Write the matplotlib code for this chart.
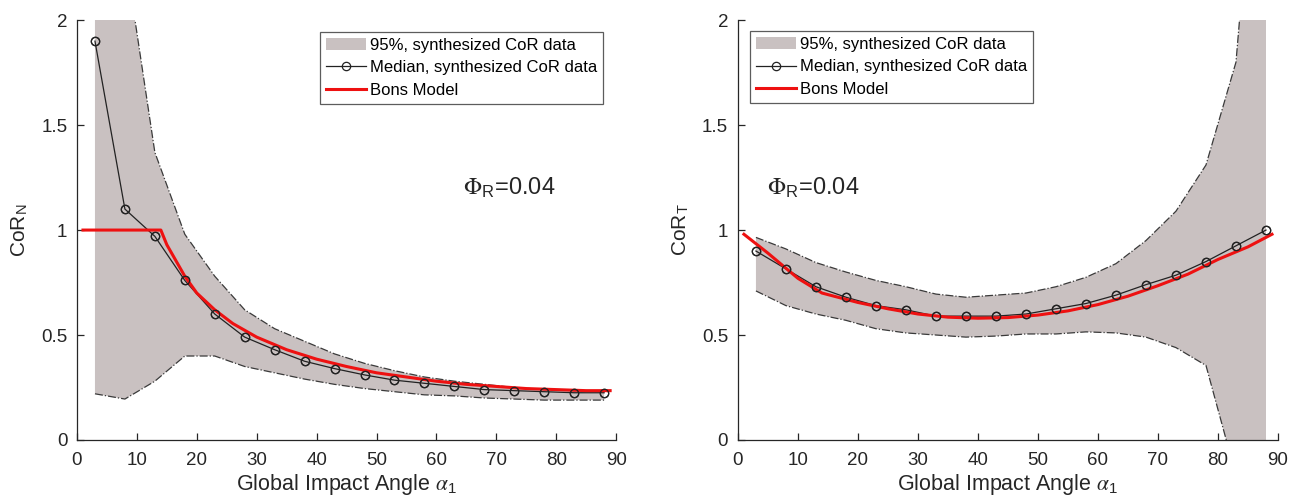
import matplotlib
matplotlib.use("Agg")
import matplotlib.pyplot as plt
from matplotlib.ticker import FuncFormatter

plt.rcParams['font.family'] = ['Liberation Sans', 'DejaVu Sans']
plt.rcParams['mathtext.fontset'] = 'stix'

# ---- data ----
angles = [3, 8, 13, 18, 23, 28, 33, 38, 43, 48, 53, 58, 63, 68, 73, 78, 83, 88]

# Left: normal CoR
n_median = [1.90, 1.10, 0.97, 0.76, 0.60, 0.49, 0.43, 0.375, 0.34, 0.31, 0.285, 0.27,
            0.255, 0.24, 0.235, 0.23, 0.225, 0.225]
n_upper = [4.0, 2.32, 1.37, 0.98, 0.78, 0.62, 0.53, 0.47, 0.41, 0.365, 0.33, 0.30,
           0.28, 0.265, 0.25, 0.24, 0.235, 0.23]
n_lower = [0.22, 0.195, 0.28, 0.40, 0.40, 0.35, 0.32, 0.29, 0.265, 0.245, 0.23, 0.215,
           0.21, 0.20, 0.195, 0.19, 0.19, 0.19]
n_bons_x = [1, 14, 15, 16, 18, 20, 23, 26, 30, 35, 40, 45, 50, 55, 60, 65, 70, 75, 80, 85, 89]
n_bons_y = [1.0, 1.0, 0.93, 0.88, 0.78, 0.70, 0.62, 0.555, 0.49, 0.43, 0.385, 0.35, 0.32,
            0.30, 0.28, 0.265, 0.255, 0.245, 0.24, 0.235, 0.235]

# Right: tangential CoR
t_median = [0.90, 0.815, 0.73, 0.68, 0.64, 0.62, 0.59, 0.59, 0.59, 0.60, 0.625, 0.65,
            0.69, 0.74, 0.785, 0.85, 0.925, 1.0]
t_upper = [0.965, 0.91, 0.845, 0.80, 0.76, 0.73, 0.695, 0.68, 0.69, 0.70, 0.73, 0.775,
           0.84, 0.95, 1.09, 1.31, 1.80, 3.5]
t_lower = [0.71, 0.64, 0.60, 0.57, 0.53, 0.51, 0.50, 0.49, 0.495, 0.505, 0.505, 0.515,
           0.51, 0.49, 0.44, 0.355, -0.17, -0.6]
t_bons_x = [1, 5, 10, 14, 20, 25, 30, 35, 40, 45, 50, 55, 60, 65, 70, 75, 80, 85, 89]
t_bons_y = [0.98, 0.89, 0.77, 0.70, 0.655, 0.625, 0.60, 0.585, 0.58, 0.583, 0.595, 0.615,
            0.645, 0.685, 0.735, 0.79, 0.86, 0.92, 0.98]

x_ticks = [0, 10, 20, 30, 40, 50, 60, 70, 80, 90]
y_ticks = [0, 0.5, 1, 1.5, 2]
band_label = '95%, synthesized CoR data'
median_label = 'Median, synthesized CoR data'
bons_label = 'Bons Model'
x_label = r'Global Impact Angle $\alpha_\mathregular{1}$'
phi_text = r'$\Phi_\mathregular{R}$=0.04'

FILL = '#c9c1c1'
EDGE = '#3a3a3a'
AX = '#262626'

fig = plt.figure(figsize=(12.96, 5.01), dpi=100)
ax1 = fig.add_axes([0.0594, 0.1218, 0.416, 0.838])
ax2 = fig.add_axes([0.5694, 0.1218, 0.4167, 0.838])


def draw(ax, med, up, lo, bx, by, ylab, legend_anchor, legend_loc, phi_xy):
    band = ax.fill_between(angles, lo, up, color=FILL, linewidth=0, label=band_label)
    ax.plot(angles, up, linestyle='-.', color=EDGE, linewidth=0.9)
    ax.plot(angles, lo, linestyle='-.', color=EDGE, linewidth=0.9)
    ml, = ax.plot(angles, med, '-', color='#222222', linewidth=0.9, marker='o',
                  markersize=6, markerfacecolor='none', markeredgecolor='#222222',
                  markeredgewidth=0.9, label=median_label)
    bl, = ax.plot(bx, by, '-', color='#ee1111', linewidth=2.2, label=bons_label)
    ax.plot(angles, med, 'o', markersize=6, markerfacecolor='none',
            markeredgecolor='#222222', markeredgewidth=0.9)
    ax.set_xlim(0, 90)
    ax.set_ylim(0, 2)
    ax.set_xticks(x_ticks)
    ax.set_yticks(y_ticks)
    ax.yaxis.set_major_formatter(FuncFormatter(lambda v, p: '%g' % v))
    for s in ['top', 'right']:
        ax.spines[s].set_visible(False)
    for s in ['left', 'bottom']:
        ax.spines[s].set_color(AX)
        ax.spines[s].set_linewidth(0.9)
    ax.tick_params(direction='in', length=5, width=0.9, color=AX, labelsize=13.5,
                   labelcolor=AX)
    ax.tick_params(axis='x', pad=9)
    ax.tick_params(axis='y', pad=7)
    ax.set_xlabel(x_label, fontsize=15.5, color=AX, labelpad=2)
    ax.set_ylabel(ylab, fontsize=15, color=AX, labelpad=8)
    ax.text(phi_xy[0], phi_xy[1], phi_text, fontsize=17, color=AX)
    leg = ax.legend(handles=[band, ml, bl], loc=legend_loc, bbox_to_anchor=legend_anchor,
                    bbox_transform=ax.transAxes, borderaxespad=0, fontsize=12,
                    frameon=True, fancybox=False, handlelength=2.4, handletextpad=0.25,
                    labelspacing=0.45, borderpad=0.35)
    leg.get_frame().set_edgecolor('#333333')
    leg.get_frame().set_linewidth(0.9)


draw(ax1, n_median, n_upper, n_lower, n_bons_x, n_bons_y, r'CoR$_\mathregular{N}$',
     (0.976, 0.972), 'upper right', (64.5, 1.17))
draw(ax2, t_median, t_upper, t_lower, t_bons_x, t_bons_y, r'CoR$_\mathregular{T}$',
     (0.022, 0.974), 'upper left', (4.8, 1.17))

fig.savefig('out.png', dpi=100)
